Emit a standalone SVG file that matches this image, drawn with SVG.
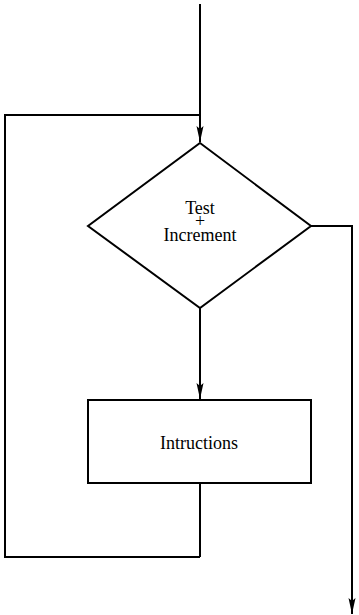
<svg xmlns="http://www.w3.org/2000/svg" width="359" height="615" viewBox="0 0 359 615">
<style>
.ln{fill:none;stroke:#000;stroke-width:2}
.shape{fill:#fff;stroke:#000;stroke-width:2}
.t{font-family:"Liberation Serif","Times New Roman",serif;font-size:18px;fill:#000;text-anchor:middle}
</style>
<defs>
<marker id="ah" markerUnits="userSpaceOnUse" markerWidth="16" markerHeight="8" viewBox="0 0 16 8" refX="16" refY="4" orient="auto">
<path d="M0,0.5 L3,4 L0,7.5 L16,4 Z" fill="#000"/>
</marker>
</defs>
<g id="connectors">
<path class="ln" d="M200,4 V142" marker-end="url(#ah)"/>
<path class="ln" d="M200,557 H5 V115 H200"/>
<path class="ln" d="M200,308 V399" marker-end="url(#ah)"/>
<path class="ln" d="M200,483 V557"/>
<path class="ln" d="M310,226 H352 V614" marker-end="url(#ah)"/>
</g>
<g id="decision">
<polygon class="shape" points="200,143 311,226 200,308 88,226"/>
<text class="t" x="200" y="214">Test</text>
<text class="t" x="200" y="227">+</text>
<text class="t" x="200" y="241">Increment</text>
</g>
<g id="instructions">
<rect class="shape" x="88" y="400" width="223" height="83"/>
<text class="t" x="199" y="449">Intructions</text>
</g>
</svg>
